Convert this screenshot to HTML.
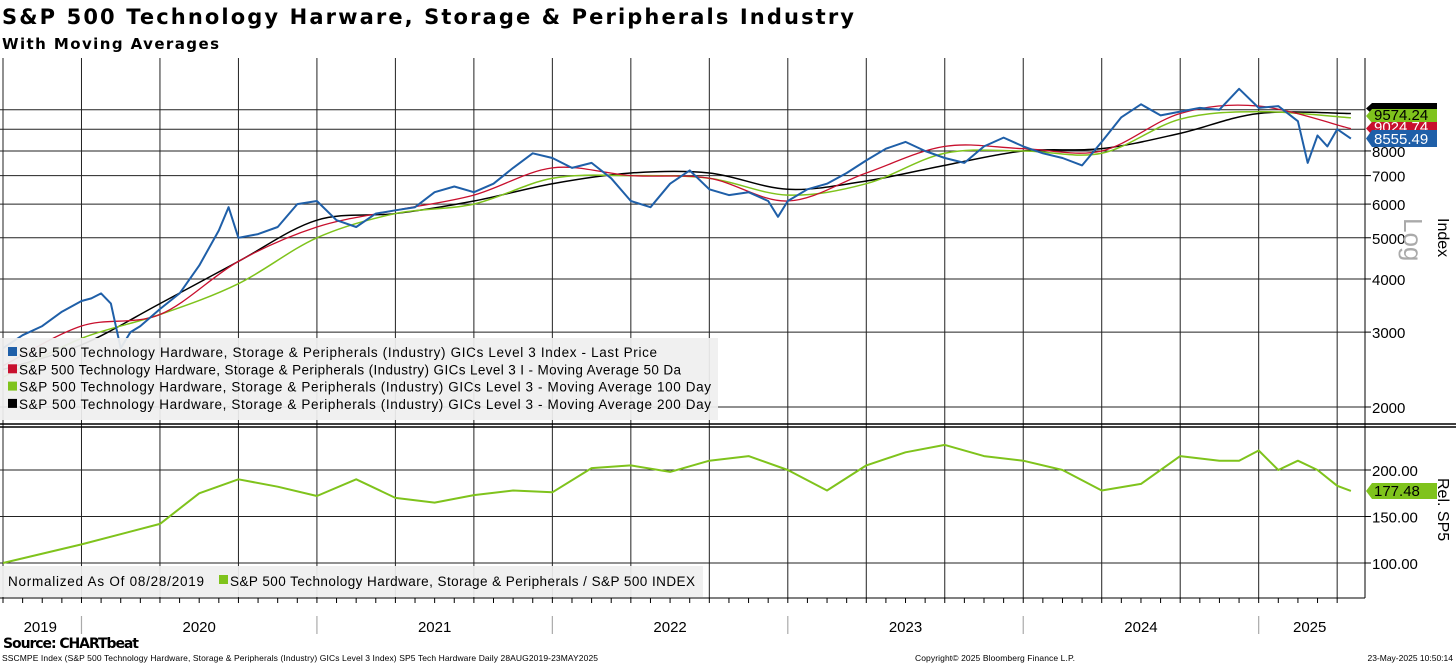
<!DOCTYPE html>
<html><head><meta charset="utf-8">
<style>
html,body{margin:0;padding:0;background:#fff;}
svg{display:block;font-family:"Liberation Sans",sans-serif;}
</style></head>
<body>
<svg id="chart" width="1456" height="665" viewBox="0 0 1456 665" xmlns="http://www.w3.org/2000/svg">
<text x="2" y="24" font-family="DejaVu Sans, sans-serif" font-weight="bold" font-size="21" textLength="852">S&amp;P 500 Technology Harware, Storage &amp; Peripherals Industry</text>
<text x="2" y="49" font-family="DejaVu Sans, sans-serif" font-weight="bold" font-size="15" textLength="217">With Moving Averages</text>
<g id="grid"></g>
<g id="marks"></g>
<g id="overlay"></g>
</svg>
<script>
// ---- data (monthly, index 0 = Sep 2019) ----
const priceMonths = [0,1,2,3,4,4.5,5,5.5,6,6.5,7,8,9,10,11,11.5,12,13,14,15,16,17,18,19,20,21,22,23,24,25,26,27,28,29,30,31,32,33,34,35,36,37,38,39,39.5,40,41,42,43,44,45,46,47,48,49,50,51,52,53,54,55,56,57,58,59,60,61,62,63,64,65,66,66.5,67,67.5,68,68.7];
const priceValues = [2750,2950,3100,3350,3550,3600,3700,3500,2750,3000,3100,3400,3700,4300,5200,5900,5000,5100,5300,6000,6100,5500,5300,5700,5800,5900,6400,6600,6400,6700,7300,7900,7700,7300,7500,6900,6100,5900,6700,7200,6500,6300,6400,6100,5600,6100,6500,6700,7100,7600,8100,8400,8000,7700,7500,8200,8600,8200,7900,7700,7400,8400,9600,10300,9700,9900,10100,10000,11200,10100,10200,9400,7500,8700,8200,9000,8555];
const maMonths = [0,4,8,12,16,20,24,28,32,36,40,44,48,52,56,60,64,68.7];
const ma50Values = [2500,3100,3300,4400,5300,5800,6300,7300,7000,6900,6100,7100,8200,8100,8000,9800,10200,9025];
const ma100Values = [2350,2900,3300,3900,5000,5700,6000,6900,7000,6900,6300,6700,7900,8000,7900,9500,9900,9574];
const ma200Values = [2450,2800,3500,4400,5500,5700,6100,6700,7100,7100,6500,6800,7400,8000,8100,8800,9800,9800];
const relMonths = [0,4,8,10,12,14,16,18,20,22,24,26,28,30,32,34,36,38,40,42,44,46,48,50,52,54,56,58,60,62,63,64,65,66,67,68,68.7];
const relValues = [100,120,142,175,190,182,172,190,170,165,173,178,176,202,205,198,210,215,200,178,205,219,227,215,210,200,178,185,215,210,210,221,200,210,200,183,177.5];
const yTicksTop = [2000,3000,4000,5000,6000,7000,8000];
const yTicksBottom = [100,150,200];
const yearLabels = ["2019","2020","2021","2022","2023","2024","2025"];
const yearLabelMonths = [1.9,10,22,34,46,58,66.6];
const yearBoundaryMonths = [4,16,28,40,52,64];

// ---- axes ----
const NS="http://www.w3.org/2000/svg";
function xm(m){return 3+m*19.62;}
function yTop(v){return 407-184.7*Math.log(v/2000);}
function yBot(v){return 563-(v-100)*0.93;}
function mk(tag,attrs,parent){const e=document.createElementNS(NS,tag);for(const k in attrs)e.setAttribute(k,attrs[k]);parent.appendChild(e);return e;}
const grid=document.getElementById('grid'), marks=document.getElementById('marks'), ov=document.getElementById('overlay');

for(let m=0;m<=68;m+=4){
  const l=mk('line',{x1:xm(m),x2:xm(m),y1:58,y2:598,stroke:'#222','stroke-width':1},grid);
  
  
}
[2000,3000,4000,5000,6000,7000,8000,9000,10000].forEach(v=>{
  const l=mk('line',{x1:0,x2:1365,y1:yTop(v),y2:yTop(v),stroke:'#222','stroke-width':1},grid);
  
  
});
[100,150,200].forEach(v=>{
  const l=mk('line',{x1:0,x2:1365,y1:yBot(v),y2:yBot(v),stroke:'#222','stroke-width':1},grid);
  
  
});
mk('line',{x1:0,x2:1456,y1:424,y2:424,stroke:'#000','stroke-width':1.5},grid);
mk('line',{x1:0,x2:1456,y1:427,y2:427,stroke:'#000','stroke-width':1.5},grid);
mk('line',{x1:1365,x2:1365,y1:58,y2:598,stroke:'#000','stroke-width':1},grid);
mk('line',{x1:0,x2:1365,y1:598,y2:598,stroke:'#000','stroke-width':1},grid);
for(let m=0;m<=68;m++){mk('line',{x1:xm(m),x2:xm(m),y1:598,y2:603,stroke:'#000','stroke-width':1},grid);}

function path(ms,vs,yf,color,w,name){
  let d='';ms.forEach((m,i)=>{d+=(i?'L':'M')+xm(m).toFixed(1)+','+yf(vs[i]).toFixed(1);});
  const p=mk('path',{d:d,fill:'none',stroke:color,'stroke-width':w,'stroke-linejoin':'round'},marks);
  
  
}
function smooth(ms,vs,yf,color,w,name){
  const pts=ms.map((m,i)=>[xm(m),yf(vs[i])]);
  let d='M'+pts[0][0]+','+pts[0][1];
  for(let i=0;i<pts.length-1;i++){
    const p0=pts[Math.max(0,i-1)],p1=pts[i],p2=pts[i+1],p3=pts[Math.min(pts.length-1,i+2)];
    const c1=[p1[0]+(p2[0]-p0[0])/6,p1[1]+(p2[1]-p0[1])/6],c2=[p2[0]-(p3[0]-p1[0])/6,p2[1]-(p3[1]-p1[1])/6];
    d+='C'+c1.join(',')+' '+c2.join(',')+' '+p2.join(',');
  }
  const p=mk('path',{d:d,fill:'none',stroke:color,'stroke-width':w},marks);
  
  
}
smooth(maMonths,ma200Values,yTop,'#000',1.5,'ma200-line');
smooth(maMonths,ma100Values,yTop,'#7fc31c',1.5,'ma100-line');
smooth(maMonths,ma50Values,yTop,'#c8102e',1.3,'ma50-line');
path(priceMonths,priceValues,yTop,'#1f5fa8',2,'price-line');
path(relMonths,relValues,yBot,'#7fc31c',2,'relative-line');

yTicksTop.forEach(v=>{
  const t=mk('text',{x:1372,y:yTop(v)+6,'font-size':15},ov);t.textContent=v;
  
  
  mk('line',{x1:1365,x2:1371,y1:yTop(v),y2:yTop(v),stroke:'#000'},ov);
});
yTicksBottom.forEach(v=>{
  const t=mk('text',{x:1372,y:yBot(v)+6,'font-size':15},ov);t.textContent=v.toFixed(2);
  
  
  mk('line',{x1:1365,x2:1371,y1:yBot(v),y2:yBot(v),stroke:'#000'},ov);
});
function tag(y,h,color,txtColor,label,name){
  const g=mk('g',{},ov);
  
  
  mk('path',{d:`M1366,${y+h/2} L1372,${y} L1437,${y} L1437,${y+h} L1372,${y+h} Z`,fill:color},g);
  const t=mk('text',{x:1374,y:y+h-3,'font-size':15,fill:txtColor},g);t.textContent=label;
}
tag(103,11,'#000','#fff','','ma200-value-tag');
tag(109,14,'#7fc31c','#000','9574.24','ma100-value-tag');
tag(122,13,'#c8102e','#fff','9024.74','ma50-value-tag');
tag(130,17,'#1f5fa8','#fff','8555.49','price-value-tag');
tag(yBot(177.48)-8,16,'#7fc31c','#000','177.48','relative-value-tag');

let t=mk('text',{transform:'translate(1438,218) rotate(90)','font-size':16},ov);t.textContent='Index';

t=mk('text',{transform:'translate(1404,218) rotate(90)','font-size':26,fill:'#aaa'},ov);t.textContent='Log';

t=mk('text',{transform:'translate(1438,478) rotate(90)','font-size':16},ov);t.textContent='Rel. SP5';


const lg=mk('g',{},ov);


mk('rect',{x:0,y:338,width:718,height:82,fill:'#efefef','fill-opacity':0.93},lg);
const legItems=[['#1f5fa8','S&P 500 Technology Hardware, Storage & Peripherals (Industry) GICs Level 3 Index - Last Price'],
['#c8102e','S&P 500 Technology Hardware, Storage & Peripherals (Industry) GICs Level 3 I - Moving Average 50 Da'],
['#7fc31c','S&P 500 Technology Hardware, Storage & Peripherals (Industry) GICs Level 3 - Moving Average 100 Day'],
['#000','S&P 500 Technology Hardware, Storage & Peripherals (Industry) GICs Level 3 - Moving Average 200 Day']];
const legW=[638,662,692,692];
legItems.forEach((it,i)=>{
  const y=356+i*17.3;
  const r=mk('rect',{x:8,y:y-9,width:9,height:9,fill:it[0]},lg);
  
  
  const tt=mk('text',{x:19,y:y+1,'font-size':13.5,textLength:legW[i]},lg);tt.textContent=it[1];
  
  
});
const lg2=mk('g',{},ov);


mk('rect',{x:0,y:566,width:703,height:31,fill:'#efefef','fill-opacity':0.93},lg2);
t=mk('text',{x:8,y:586,'font-size':13.5,textLength:196},lg2);t.textContent='Normalized As Of 08/28/2019';

mk('rect',{x:219,y:575,width:9,height:9,fill:'#7fc31c'},lg2);
t=mk('text',{x:230,y:586,'font-size':13.5,textLength:465},lg2);t.textContent='S&P 500 Technology Hardware, Storage & Peripherals / S&P 500 INDEX';


yearLabels.forEach((y,i)=>{
  const tx=mk('text',{x:xm(yearLabelMonths[i]),y:632,'font-size':15,'text-anchor':'middle'},ov);tx.textContent=y;
  
  
});
yearBoundaryMonths.forEach(m=>{mk('line',{x1:xm(m),x2:xm(m),y1:616,y2:634,stroke:'#aaa','stroke-width':1.2},ov);});

t=mk('text',{x:3,y:648,'font-size':14,'font-weight':'bold','font-family':'DejaVu Sans, sans-serif',textLength:136},ov);t.textContent='Source: CHARTbeat';

t=mk('text',{x:2,y:661,'font-size':8.5,textLength:596},ov);t.textContent='SSCMPE Index (S&P 500 Technology Hardware, Storage & Peripherals (Industry) GICs Level 3 Index) SP5 Tech Hardware  Daily 28AUG2019-23MAY2025';

t=mk('text',{x:915,y:661,'font-size':8.5,textLength:160},ov);t.textContent='Copyright\u00A9 2025 Bloomberg Finance L.P.';

t=mk('text',{x:1453,y:661,'font-size':8.5,'text-anchor':'end'},ov);t.textContent='23-May-2025 10:50:14';

</script>
</body></html>
